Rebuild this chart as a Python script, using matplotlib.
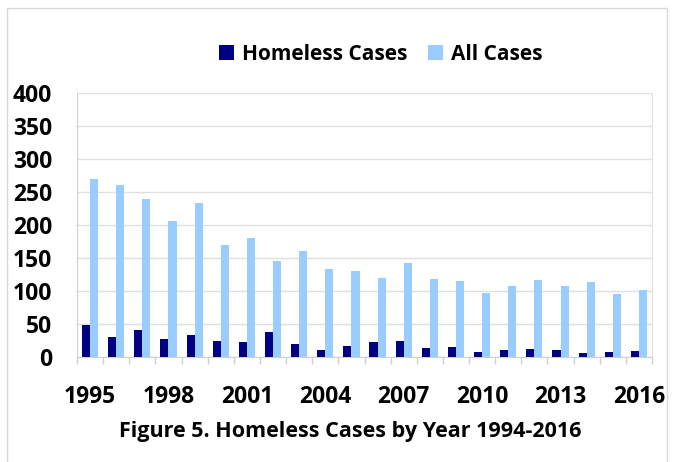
import matplotlib
matplotlib.use("Agg")
import matplotlib.pyplot as plt
import numpy as np
from matplotlib.patches import Rectangle

years = list(range(1995, 2017))
homeless = [49, 30, 41, 28, 33, 24, 22, 38, 20, 11, 17, 23, 25, 14, 15, 7, 11, 12, 11, 6, 8, 9]
all_cases = [269, 261, 240, 206, 233, 169, 181, 145, 161, 134, 131, 120, 142, 118, 115, 97, 107, 116, 107, 113, 96, 101]
tick_years = [1995, 1998, 2001, 2004, 2007, 2010, 2013, 2016]
yticks = [0, 50, 100, 150, 200, 250, 300, 350, 400]

plt.rcParams['font.family'] = ['Open Sans', 'DejaVu Sans']
plt.rcParams['font.weight'] = 'bold'

fig = plt.figure(figsize=(6.73, 4.62), dpi=100)
fig.patches.append(Rectangle((7/673, -0.1), 660/673, 1 - 8/462 + 0.1,
                             transform=fig.transFigure, fill=False,
                             edgecolor='#d9d9d9', linewidth=1.0))

ax = fig.add_axes([77/673, 105/462, 575/673, 264/462])

x = np.arange(len(years))
w = 0.31
ax.bar(x - w/2, homeless, width=w, color='#000080', label='Homeless Cases', zorder=3)
ax.bar(x + w/2, all_cases, width=w, color='#99CCFF', label='All Cases', zorder=3)

ax.set_xlim(-0.5, len(years) - 0.5)
ax.set_ylim(0, 400)
ax.set_yticks(yticks)
ax.set_yticklabels([str(v) for v in yticks], fontsize=16.5, fontweight='bold')
ax.tick_params(axis='y', length=0, pad=18)
ax.yaxis.grid(True, color='#e0e0e0', linewidth=1, zorder=0)

ax.set_xticks([years.index(y) for y in tick_years])
ax.set_xticklabels([str(y) for y in tick_years], fontsize=16.5, fontweight='bold')
ax.set_xticks(np.arange(-0.5, len(years)), minor=True)
ax.tick_params(axis='x', which='major', length=0, pad=20)
ax.tick_params(axis='x', which='minor', length=5, color='#d0d0d0', width=1)

ax.spines['top'].set_visible(False)
ax.spines['left'].set_color('#d0d0d0')
ax.spines['bottom'].set_color('#d0d0d0')
ax.spines['right'].set_color('#e0e0e0')

leg = ax.legend(loc='center', bbox_to_anchor=(381/673, 1 - 54/462), bbox_transform=fig.transFigure,
                ncol=2, frameon=False, handlelength=0.72, handleheight=0.72,
                handletextpad=0.38, columnspacing=1.0, prop={'weight': 'bold', 'size': 15})

fig.text(350/673, 1 - 432/462, 'Figure 5. Homeless Cases by Year 1994-2016',
         ha='center', va='center', fontsize=15.5, fontweight='bold')

fig.savefig('out.png', dpi=100)
